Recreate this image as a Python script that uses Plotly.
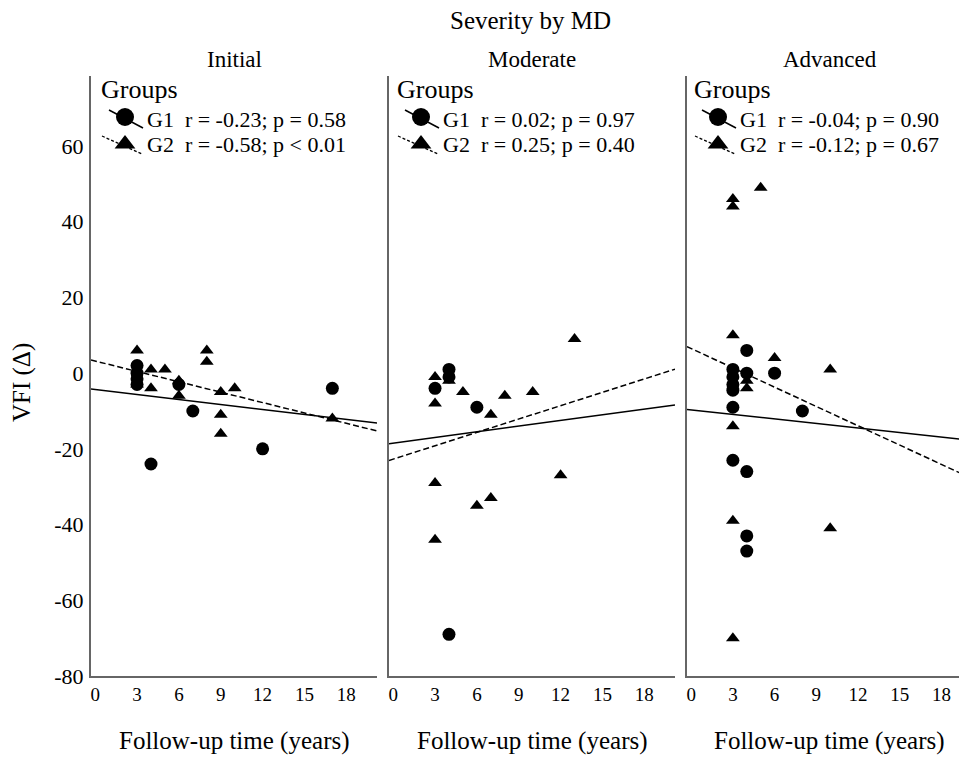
import plotly.graph_objects as go

# ---------------- data ----------------
panel_titles = ["Initial", "Moderate", "Advanced"]

g1_init_x = [3, 3, 3, 3, 6, 7, 4, 12, 17]
g1_init_y = [2, 0, -1.5, -3, -3, -10, -24, -20, -4]
g2_init_x = [3, 3, 4, 5, 4, 6, 6, 8, 8, 9, 10, 9, 9, 17]
g2_init_y = [6, -3, 1, 1, -4, -2, -6, 6, 3, -5, -4, -11, -16, -12]

g1_mod_x = [4, 4, 3, 6, 4]
g1_mod_y = [1, -1, -4, -9, -69]
g2_mod_x = [3, 3, 4, 5, 7, 8, 10, 13, 3, 6, 7, 12, 3]
g2_mod_y = [-1, -8, -2, -5, -11, -6, -5, 9, -29, -35, -33, -27, -44]

g1_adv_x = [4, 4, 6, 3, 3, 3, 3, 3, 8, 3, 4, 4, 4]
g1_adv_y = [6, 0, 0, 1, -1, -3, -4.5, -9, -10, -23, -26, -43, -47]
g2_adv_x = [3, 3, 5, 3, 6, 10, 4, 4, 3, 3, 10, 3]
g2_adv_y = [46, 44, 49, 10, 4, 1, -2, -4, -14, -39, -41, -70]

# regression lines (intercept, slope)
g1_intercepts = [-4.3, -18.5, -9.7]
g1_slopes = [-0.44, 0.50, -0.40]
g2_intercepts = [3.2, -22.7, 6.5]
g2_slopes = [-0.914, 1.176, -1.70]

g1_labels = ["G1\u00a0 r = -0.23; p = 0.58", "G1\u00a0 r = 0.02; p = 0.97", "G1\u00a0 r = -0.04; p = 0.90"]
g2_labels = ["G2\u00a0 r = -0.58; p < 0.01", "G2\u00a0 r = 0.25; p = 0.40", "G2\u00a0 r = -0.12; p = 0.67"]

x_ticks = [0, 3, 6, 9, 12, 15, 18]
y_ticks = [-80, -60, -40, -20, 0, 20, 40, 60]
y_tick_text = ["-80", "-60", "-40", "-20", "0", "20", "40", "60"]

g1_x = [g1_init_x, g1_mod_x, g1_adv_x]
g1_y = [g1_init_y, g1_mod_y, g1_adv_y]
g2_x = [g2_init_x, g2_mod_x, g2_adv_x]
g2_y = [g2_init_y, g2_mod_y, g2_adv_y]

# ---------------- layout geometry (page pixels) ----------------
PAGE_W, PAGE_H = 967, 757
OFF = 8                      # default body margin of the html page
FW, FH = PAGE_W - OFF, PAGE_H - OFF
FONT = "Liberation Serif"


def fx(px):
    return (px - OFF) / FW


def fy(py):
    return 1 - (py - OFF) / FH


panels_px = [(91, 377), (389, 675), (687, 972)]
x_ranges = [[-0.3, 20.2], [-0.3, 20.2], [-0.3, 20.2]]
y_top_px, y_bot_px = 76, 676
y_range = [-80, 78.5]
line_x = [-0.3, 20.2]
legend_left = [101, 397, 694]
groups_y, row1_y, row2_y = 90, 119, 145

fig = go.Figure()

for i in range(3):
    xa = "x" if i == 0 else f"x{i+1}"
    ya = "y" if i == 0 else f"y{i+1}"
    fig.add_trace(go.Scatter(x=g1_x[i], y=g1_y[i], mode="markers", xaxis=xa, yaxis=ya,
                             marker=dict(symbol="circle", size=13, color="black"),
                             showlegend=False, cliponaxis=False))
    fig.add_trace(go.Scatter(x=g2_x[i], y=g2_y[i], mode="markers", xaxis=xa, yaxis=ya,
                             marker=dict(symbol="triangle-up", size=12, color="black"),
                             showlegend=False, cliponaxis=False))
    fig.add_trace(go.Scatter(x=line_x, y=[g1_intercepts[i] + g1_slopes[i] * v for v in line_x],
                             mode="lines", xaxis=xa, yaxis=ya,
                             line=dict(color="black", width=1.5), showlegend=False))
    fig.add_trace(go.Scatter(x=line_x, y=[g2_intercepts[i] + g2_slopes[i] * v for v in line_x],
                             mode="lines", xaxis=xa, yaxis=ya,
                             line=dict(color="black", width=1.5, dash="6px,3px"), showlegend=False))

# legend glyphs on an invisible overlay axis measured in page pixels
for i in range(3):
    L = legend_left[i]
    fig.add_trace(go.Scatter(x=[L + 8, L + 42], y=[row1_y - 9, row1_y + 9], mode="lines",
                             xaxis="x4", yaxis="y4", line=dict(color="black", width=1.5),
                             showlegend=False, hoverinfo="skip"))
    fig.add_trace(go.Scatter(x=[L + 1, L + 41], y=[row2_y - 9, row2_y + 9], mode="lines",
                             xaxis="x4", yaxis="y4",
                             line=dict(color="black", width=1.3, dash="3px,2px"),
                             showlegend=False, hoverinfo="skip"))
    fig.add_trace(go.Scatter(x=[L + 24], y=[row1_y - 2], mode="markers", xaxis="x4", yaxis="y4",
                             marker=dict(symbol="circle", size=18, color="black"),
                             showlegend=False, hoverinfo="skip"))
    fig.add_trace(go.Scatter(x=[L + 24], y=[row2_y - 1], mode="markers", xaxis="x4", yaxis="y4",
                             marker=dict(symbol="triangle-up", size=18, color="black"),
                             showlegend=False, hoverinfo="skip"))

layout = dict(
    width=FW, height=FH,
    margin=dict(l=0, r=0, t=0, b=0, autoexpand=False),
    paper_bgcolor="white", plot_bgcolor="rgba(0,0,0,0)",
    font=dict(family=FONT, color="black"),
    showlegend=False,
    annotations=[],
)

ydom = [fy(y_bot_px), fy(y_top_px)]
for i in range(3):
    x0, x1 = panels_px[i]
    xk = "xaxis" if i == 0 else f"xaxis{i+1}"
    yk = "yaxis" if i == 0 else f"yaxis{i+1}"
    layout[xk] = dict(domain=[fx(x0), min(1.0, fx(x1))], range=x_ranges[i], tickvals=x_ticks,
                      showline=True, linecolor="#666", linewidth=2, showgrid=False,
                      zeroline=False, ticks="", tickfont=dict(size=19, family=FONT),
                      automargin=False,
                      anchor="y" if i == 0 else f"y{i+1}", fixedrange=True)
    if x1 > PAGE_W:
        # last panel is cut by the page edge: shorten the range proportionally
        frac = (PAGE_W - x0) / (x1 - x0)
        r0, r1 = x_ranges[i]
        layout[xk]["range"] = [r0, r0 + (r1 - r0) * frac]
    layout[yk] = dict(domain=ydom, range=y_range, tickvals=y_ticks, ticktext=y_tick_text,
                      showline=True, linecolor="#666", linewidth=2, showgrid=False,
                      zeroline=False, ticks="", showticklabels=(i == 0),
                      tickfont=dict(size=22, family=FONT), ticklabelstandoff=1,
                      automargin=False,
                      anchor="x" if i == 0 else f"x{i+1}", fixedrange=True)
    cx = (x0 + x1) / 2
    layout["annotations"].append(dict(text=panel_titles[i], x=fx(cx), y=fy(59),
                                      xref="paper", yref="paper", showarrow=False,
                                      xanchor="center", yanchor="middle",
                                      font=dict(size=23, family=FONT)))
    layout["annotations"].append(dict(text="Follow-up time (years)", x=fx(cx), y=fy(741),
                                      xref="paper", yref="paper", showarrow=False,
                                      xanchor="center", yanchor="middle",
                                      font=dict(size=25, family=FONT)))
    L = legend_left[i]
    layout["annotations"].append(dict(text="Groups", x=fx(L - 2), y=fy(groups_y),
                                      xref="paper", yref="paper", showarrow=False,
                                      xanchor="left", yanchor="middle",
                                      font=dict(size=26, family=FONT)))
    layout["annotations"].append(dict(text=g1_labels[i], x=fx(L + 44), y=fy(row1_y),
                                      xref="paper", yref="paper", showarrow=False,
                                      xanchor="left", yanchor="middle",
                                      font=dict(size=22, family=FONT)))
    layout["annotations"].append(dict(text=g2_labels[i], x=fx(L + 44), y=fy(row2_y),
                                      xref="paper", yref="paper", showarrow=False,
                                      xanchor="left", yanchor="middle",
                                      font=dict(size=22, family=FONT)))

layout["xaxis4"] = dict(domain=[0, 1], range=[OFF, PAGE_W], visible=False, anchor="y4",
                        fixedrange=True)
layout["yaxis4"] = dict(domain=[0, 1], range=[PAGE_H, OFF], visible=False, anchor="x4",
                        fixedrange=True)

layout["annotations"].append(dict(text="Severity by MD", x=fx(530), y=fy(21),
                                  xref="paper", yref="paper", showarrow=False,
                                  xanchor="center", yanchor="middle",
                                  font=dict(size=25, family=FONT)))
layout["annotations"].append(dict(text="VFI (\u0394)", x=fx(22), y=fy(383), textangle=-90,
                                  xref="paper", yref="paper", showarrow=False,
                                  xanchor="center", yanchor="middle",
                                  font=dict(size=25, family=FONT)))

fig.update_layout(**layout)
fig.write_html("out.html")
